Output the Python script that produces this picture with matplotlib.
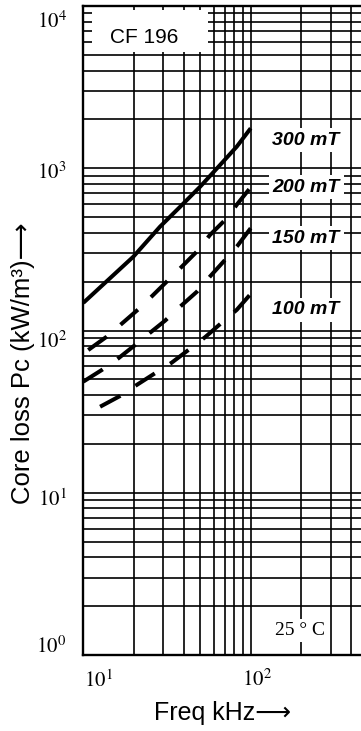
import matplotlib
matplotlib.use("Agg")
import matplotlib.pyplot as plt
import matplotlib.transforms as mtransforms
from matplotlib.patches import Rectangle
from matplotlib.ticker import LogLocator, NullFormatter

plt.rcParams["font.family"] = ["Liberation Sans", "DejaVu Sans"]
plt.rcParams["mathtext.fontset"] = "stix"

# values: frequency (kHz) vs core loss (kW/m^3)
freq_300 = [10.0, 19.9, 28.7, 37.9, 49.9, 65.6, 82.5, 100.0]
loss_300 = [148, 285, 436, 579, 770, 1047, 1358, 1763]
freq_200 = [10.7, 13.8, 16.6, 21.3, 25.6, 31.5, 38.7, 47.6, 57.1, 71.9, 83.2, 100.0]
loss_200 = [75.8, 91.6, 108, 135, 162, 200, 247, 306, 388, 491, 602, 763]
freq_150 = [10.0, 12.9, 16.2, 20.4, 24.8, 30.8, 37.8, 47.6, 57.1, 70.2, 83.2, 100.0]
loss_150 = [48.4, 57.1, 67.4, 81.4, 96.1, 115, 140, 173, 215, 272, 332, 427]
freq_100 = [12.6, 16.6, 20.8, 26.8, 33.7, 43.0, 53.3, 68.0, 82.5, 100.0]
loss_100 = [33.9, 39.5, 46.1, 54.5, 63.3, 76.6, 90.8, 113, 134, 168]

flux_labels = ["300 mT", "200 mT", "150 mT", "100 mT"]
x_ticks = [10, 100]
x_ticklabels = [r"$10^{1}$", r"$10^{2}$"]
y_ticks = [1, 10, 100, 1000, 10000]
y_ticklabels = [r"$10^{0}$", r"$10^{1}$", r"$10^{2}$", r"$10^{3}$", r"$10^{4}$"]

# layout (pixels at 100 dpi)
W, H = 361, 731
fig = plt.figure(figsize=(W / 100, H / 100), dpi=100)
ax = fig.add_axes([83.3 / W, 76 / H, 277.7 / W, 649 / H])
ax.set_xscale("log")
ax.set_yscale("log")
ax.set_xlim(10, 456)
ax.set_ylim(1, 1e4)

ax.set_axisbelow(True)
for axis in (ax.xaxis, ax.yaxis):
    axis.set_minor_locator(LogLocator(base=10, subs=range(2, 10), numticks=100))
    axis.set_minor_formatter(NullFormatter())
ax.grid(which="both", color="black", lw=1.2)

ax.spines["right"].set_visible(False)
for s in ("left", "bottom", "top"):
    ax.spines[s].set_linewidth(1.7)

ax.set_xticks(x_ticks, x_ticklabels)
ax.set_yticks(y_ticks, y_ticklabels)
ax.tick_params(which="both", length=0)
ax.tick_params(axis="x", labelsize=15, pad=10)
ax.tick_params(axis="y", labelsize=15, pad=12)

# hand-placed tick labels in the original: nudge each one (px)
x_nudge = [15, 6]
y_nudge = [11, -4, -9, -2, -13]
for lab, dx in zip(ax.get_xticklabels(), x_nudge):
    lab.set_transform(lab.get_transform() + mtransforms.ScaledTranslation(dx / 100, 0, fig.dpi_scale_trans))
for lab, dy in zip(ax.get_yticklabels(), y_nudge):
    lab.set_transform(lab.get_transform() + mtransforms.ScaledTranslation(0, dy / 100, fig.dpi_scale_trans))

lw = 2.9
dash = (0, (5.7, 4.5))
ax.plot(freq_300, loss_300, color="black", lw=lw, solid_capstyle="butt", zorder=3)
ax.plot(freq_200, loss_200, color="black", lw=lw, linestyle=dash, zorder=3)
ax.plot(freq_150, loss_150, color="black", lw=lw, linestyle=dash, zorder=3)
ax.plot(freq_100, loss_100, color="black", lw=lw, linestyle=dash, zorder=3)

# curve labels
label_y = [0.7935, 0.7211, 0.6425, 0.5316]
for txt, yy in zip(flux_labels, label_y):
    ax.text(0.802, yy, txt, transform=ax.transAxes, ha="center", va="center",
            fontsize=14, fontweight="bold", fontstyle="italic", zorder=4,
            bbox=dict(boxstyle="square,pad=0.2", fc="white", ec="none"))

# material name box
ax.add_patch(Rectangle((0.031, 0.929), 0.418, 0.065, transform=ax.transAxes,
                       fc="white", ec="none", zorder=1))
ax.text(0.219, 0.9515, "CF 196", transform=ax.transAxes, ha="center", va="center",
        fontsize=15, zorder=4)

ax.text(0.78, 0.038, "25 ° C", transform=ax.transAxes, ha="center", va="center",
        fontsize=14, family="Liberation Serif", zorder=4,
        bbox=dict(boxstyle="square,pad=0.15", fc="white", ec="none"))

ax.set_xlabel("Freq kHz⟶", fontsize=18, va="center")
ax.xaxis.set_label_coords(0.5, -58 / 649)
ax.set_ylabel("Core loss Pc (kW/m³)⟶", fontsize=18.5, va="center")
ax.yaxis.set_label_coords(-0.217, 0.45)

fig.savefig("out.png", dpi=100)
